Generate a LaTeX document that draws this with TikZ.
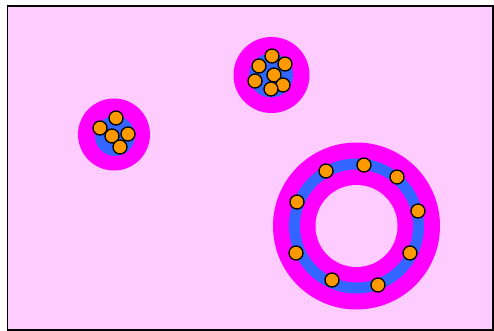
\documentclass[tikz,border=0pt]{standalone}
\definecolor{bgpink}{HTML}{FFCCFF}
\definecolor{mag}{HTML}{FF00FF}
\definecolor{blu}{HTML}{3366FF}
\definecolor{org}{HTML}{FF9900}
\tikzset{
  ball/.style={circle, draw=black, fill=org, line width=1.3pt, minimum size=14pt, inner sep=0pt},
}
\begin{document}
\begin{tikzpicture}[x=1pt,y=-1pt]
\useasboundingbox (0,0) rectangle (494,331);
\fill[white] (0,0) rectangle (494,331);
\draw[fill=bgpink, line width=1.6pt] (7.5,6) rectangle (493,330);
% cluster 1
\fill[mag] (114,134.5) circle (36);
\fill[blu] (115,136) circle (20);
\node[ball] (a1) at (116,118) {};
\node[ball] (a2) at (100,128) {};
\node[ball] (a3) at (112,136) {};
\node[ball] (a4) at (128,134) {};
\node[ball] (a5) at (120,147) {};
% cluster 2
\fill[mag] (271.5,75) circle (38);
\fill[blu] (271,75.5) circle (22);
\node[ball] (b1) at (272,56) {};
\node[ball] (b2) at (259,66) {};
\node[ball] (b3) at (285,64) {};
\node[ball] (b4) at (274,75) {};
\node[ball] (b5) at (255,81) {};
\node[ball] (b6) at (283,85) {};
\node[ball] (b7) at (271,89) {};
% ring
\fill[mag] (356.5,226) circle (83.5);
\fill[blu] (356.5,226) circle (67.5);
\fill[mag] (356.5,226) circle (56.5);
\fill[bgpink] (356.5,226) circle (41);
\node[ball] (c1) at (326,171) {};
\node[ball] (c2) at (364,165) {};
\node[ball] (c3) at (397,177) {};
\node[ball] (c4) at (418,211) {};
\node[ball] (c5) at (410,253) {};
\node[ball] (c6) at (378,285) {};
\node[ball] (c7) at (332,280) {};
\node[ball] (c8) at (296,253) {};
\node[ball] (c9) at (297,202) {};
\end{tikzpicture}
\end{document}
